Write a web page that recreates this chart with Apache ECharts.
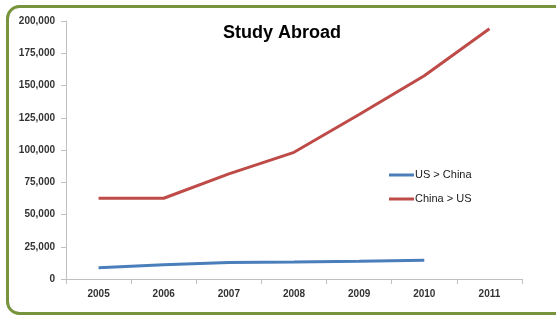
<!DOCTYPE html>
<html>
<head>
<meta charset="utf-8">
<script src="https://cdn.jsdelivr.net/npm/echarts@6/dist/echarts.min.js"></script>
<style>
html,body{margin:0;padding:0;background:#fff;}
#c{width:556px;height:316px;}
</style>
</head>
<body>
<div id="c"></div>
<script>
var years = ['2005','2006','2007','2008','2009','2010','2011'];
var usToChina = [8800, 11000, 12700, 13200, 13800, 14500, null];
var chinaToUs = [62600, 62600, 81500, 98200, 127500, 157600, 194000];
var yTicks = {min: 0, max: 200000, interval: 25000};

var chart = echarts.init(document.getElementById('c'));
var font = '"Liberation Sans", Arial, sans-serif';
chart.setOption({
  animation: false,
  backgroundColor: '#fff',
  graphic: [{
    type: 'rect',
    shape: {x: 7.5, y: 6.5, width: 560, height: 307, r: 12},
    style: {fill: 'none', stroke: '#77933c', lineWidth: 3},
    z: 100
  }],
  title: {
    text: 'Study Abroad',
    left: 218,
    top: 19,
    textStyle: {fontFamily: font, fontWeight: 'bold', fontSize: 18, color: '#000'}
  },
  legend: {
    orient: 'vertical',
    left: 384,
    top: 163,
    itemWidth: 25,
    itemHeight: 3,
    itemGap: 10,
    icon: 'rect',
    textStyle: {fontFamily: font, fontSize: 11, color: '#1a1a1a', lineHeight: 14, padding: [0,0,0,-4]},
    data: ['US > China', 'China > US']
  },
  grid: {left: 66, right: 34, top: 21, bottom: 37, containLabel: false},
  xAxis: {
    type: 'category',
    data: years,
    boundaryGap: true,
    axisLine: {lineStyle: {color: '#c0c0c0', width: 1}},
    axisTick: {show: true, length: 5, lineStyle: {color: '#c0c0c0'}},
    axisLabel: {margin: 10, fontFamily: font, fontSize: 10, fontWeight: 'bold', color: '#333'}
  },
  yAxis: {
    type: 'value',
    min: yTicks.min, max: yTicks.max, interval: yTicks.interval,
    splitLine: {show: false},
    axisLine: {show: true, lineStyle: {color: '#c0c0c0', width: 1}},
    axisTick: {show: true, length: 5, lineStyle: {color: '#c0c0c0'}},
    axisLabel: {
      margin: 11, fontFamily: font, fontSize: 10, fontWeight: 'bold', color: '#333',
      formatter: function (v) { return v.toLocaleString('en-US'); }
    }
  },
  series: [
    {
      name: 'US > China', type: 'line', data: usToChina,
      showSymbol: false, symbol: 'none',
      lineStyle: {color: '#4a7ebb', width: 3},
      itemStyle: {color: '#4a7ebb'}
    },
    {
      name: 'China > US', type: 'line', data: chinaToUs,
      showSymbol: false, symbol: 'none',
      lineStyle: {color: '#be4b48', width: 3},
      itemStyle: {color: '#be4b48'}
    }
  ]
});
</script>
</body>
</html>
